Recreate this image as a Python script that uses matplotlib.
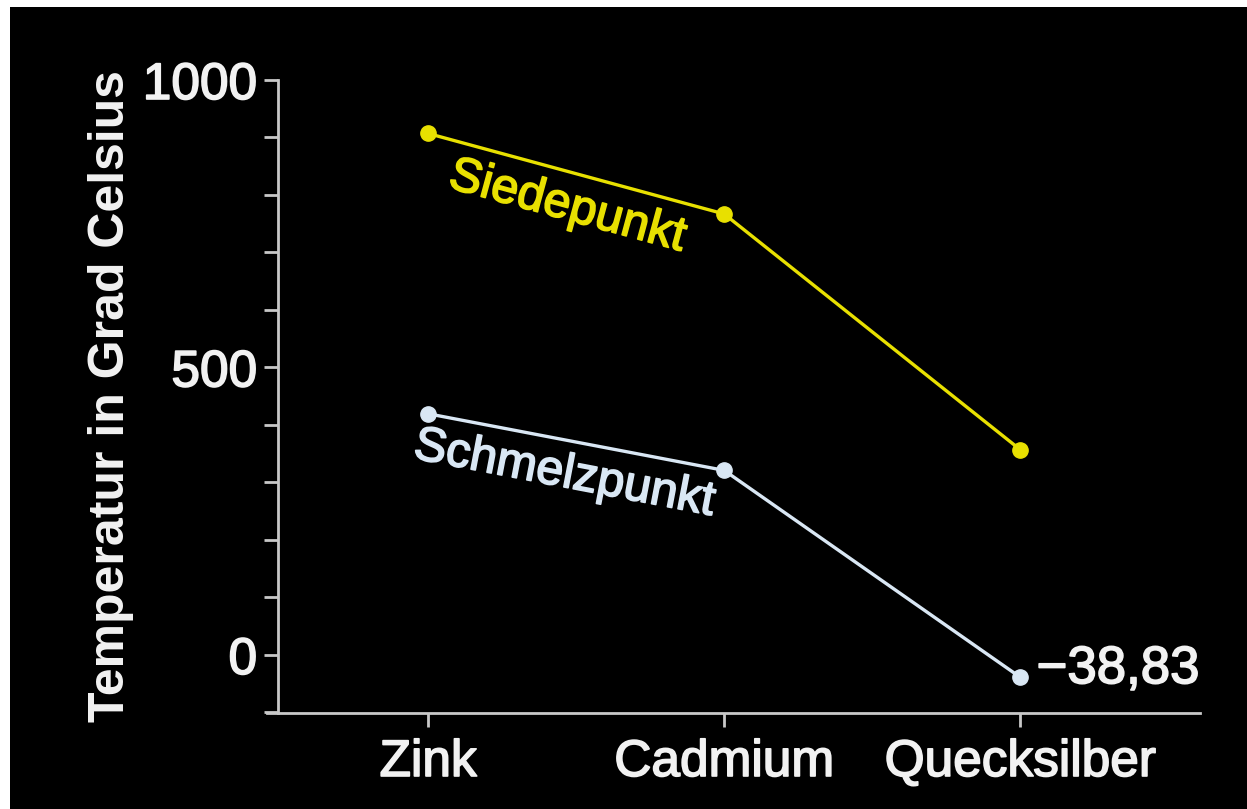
import numpy as np
import matplotlib
matplotlib.use("Agg")
import matplotlib.pyplot as plt
import matplotlib.patheffects as pe
from matplotlib.ticker import MultipleLocator
from matplotlib.patches import Rectangle

# ---- data ----
metals = ["Zink", "Cadmium", "Quecksilber"]
siedepunkt = [907, 767, 357]
schmelzpunkt = [419.5, 321, -38.83]
yticks = [0, 500, 1000]
ylabel = "Temperatur in Grad Celsius"
label_sied = "Siedepunkt"
label_schm = "Schmelzpunkt"
label_hg = "\u221238,83"

W, H = 1247, 809
fig = plt.figure(figsize=(W / 100, H / 100), dpi=100)
fig.patch.set_facecolor("white")
fig.add_artist(Rectangle((10 / W, 0), 1 - 10 / W, 1 - 7 / H, transform=fig.transFigure,
                         facecolor="black", edgecolor="none", zorder=-10))

plt.rcParams["font.family"] = ["Liberation Sans", "DejaVu Sans"]

left, right = 267 / W, 1200 / W
bottom, top = (H - 713) / H, (H - 80) / H
ax = fig.add_axes([left, bottom, right - left, top - bottom])
ax.set_facecolor("none")

yellow = "#e8e000"
pale = "#d9e7f4"
axc = "#c8c8c8"
txt = "#f2f2f2"


def thick(c, w=1.0):
    return [pe.withStroke(linewidth=w, foreground=c)]


x = np.arange(len(metals))
ax.plot(x, siedepunkt, color=yellow, lw=2.4, marker="o", ms=11, zorder=3)
ax.plot(x, schmelzpunkt, color=pale, lw=2.4, marker="o", ms=11, zorder=3)

ax.set_xlim(-0.544, 2.607)
ax.set_ylim(-101, 1000)

for s in ["top", "right"]:
    ax.spines[s].set_visible(False)
for s in ["left", "bottom"]:
    ax.spines[s].set_color(axc)
    ax.spines[s].set_linewidth(2)
ax.spines["left"].set_position(("axes", 11 / 933))

ax.set_yticks(yticks)
ax.set_yticklabels([str(v) for v in yticks])
ax.yaxis.set_minor_locator(MultipleLocator(100))
ax.set_xticks(x)
ax.set_xticklabels(metals)
ax.tick_params(axis="y", which="both", direction="out", length=10, width=2, color=axc,
               labelcolor=txt, labelsize=37, pad=5)
ax.tick_params(axis="x", which="both", direction="out", length=10, width=2, color=axc,
               labelcolor=txt, labelsize=37, pad=8)
for lab in ax.get_xticklabels() + ax.get_yticklabels():
    lab.set_path_effects(thick(txt, 1.2))
ax.set_ylabel(ylabel, color=txt, fontsize=36, fontweight="bold", labelpad=6)


def angle(xs, ys, i):
    p0 = ax.transData.transform((xs[i], ys[i]))
    p1 = ax.transData.transform((xs[i + 1], ys[i + 1]))
    return np.degrees(np.arctan2(p1[1] - p0[1], p1[0] - p0[0]))


fig.canvas.draw()
a1 = angle(x, siedepunkt, 0)
a2 = angle(x, schmelzpunkt, 0)
xs = 0.47
ys = siedepunkt[0] + (siedepunkt[1] - siedepunkt[0]) * xs - 62
ax.text(xs, ys, label_sied, color=yellow, fontsize=35, rotation=a1, rotation_mode="anchor",
        ha="center", va="center", path_effects=thick(yellow, 1.2))
xm = 0.46
ym = schmelzpunkt[0] + (schmelzpunkt[1] - schmelzpunkt[0]) * xm - 60
ax.text(xm, ym, label_schm, color=pale, fontsize=35, rotation=a2, rotation_mode="anchor",
        ha="center", va="center", path_effects=thick(pale, 1.2))
ax.text(2.055, schmelzpunkt[2] + 14, label_hg, color=txt, fontsize=38, ha="left", va="center",
        path_effects=thick(txt, 1.2))

fig.savefig("out.png", dpi=100)
